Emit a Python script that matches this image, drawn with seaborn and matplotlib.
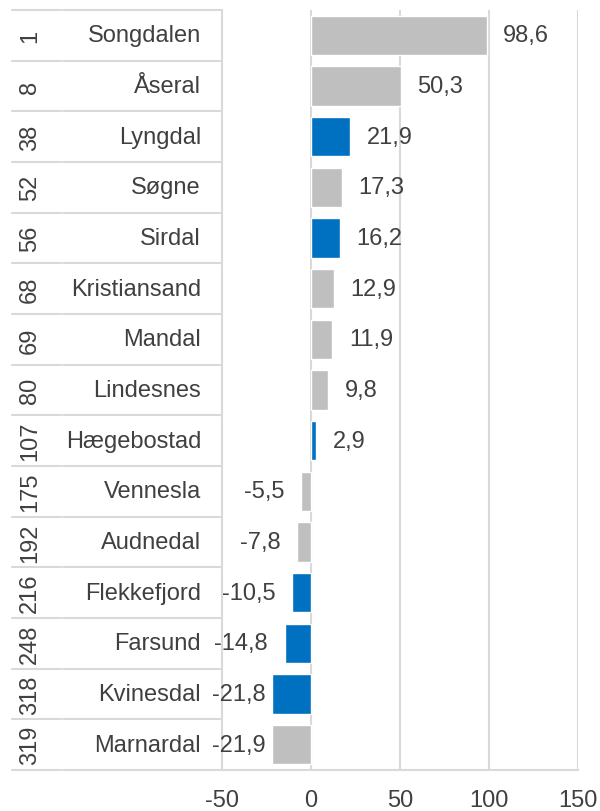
import matplotlib
matplotlib.use("Agg")
import matplotlib.pyplot as plt
import matplotlib.transforms as mtransforms
import seaborn as sns
import pandas as pd

# data
ranks = ["1", "8", "38", "52", "56", "68", "69", "80", "107", "175", "192", "216", "248", "318", "319"]
names = ["Songdalen", "Åseral", "Lyngdal", "Søgne", "Sirdal", "Kristiansand", "Mandal", "Lindesnes",
         "Hægebostad", "Vennesla", "Audnedal", "Flekkefjord", "Farsund", "Kvinesdal", "Marnardal"]
values = [98.6, 50.3, 21.9, 17.3, 16.2, 12.9, 11.9, 9.8, 2.9, -5.5, -7.8, -10.5, -14.8, -21.8, -21.9]
groups = ["grey", "grey", "blue", "grey", "blue", "grey", "grey", "grey",
          "blue", "grey", "grey", "blue", "blue", "blue", "grey"]
xticks = [-50, 0, 50, 100, 150]

df = pd.DataFrame({"name": names, "value": values, "group": groups})

sns.set_style("white")
plt.rcParams['font.family'] = ['Liberation Sans', 'DejaVu Sans']
txt = '#404040'
grid = '#D9D9D9'
fs = 17

W, H = 600, 812
fig = plt.figure(figsize=(6, 8.12), dpi=100)
ax = fig.add_axes([222 / W, 1 - 771 / H, (578 - 222) / W, (771 - 11) / H])

sns.barplot(data=df, x="value", y="name", hue="group", dodge=False, legend=False,
            palette={"grey": "#BFBFBF", "blue": "#0070C0"}, width=0.77, ax=ax,
            saturation=1)

ax.set_xlim(-50, 150)
ax.set_ylim(len(names) - 0.5, -0.5)
ax.set_xticks(xticks)
ax.set_xticklabels([str(t) for t in xticks], fontsize=fs, color=txt)
ax.tick_params(axis='x', length=0, pad=14)
ax.set_yticks([])
ax.set_xlabel("")
ax.set_ylabel("")
for t in xticks[1:]:
    ax.axvline(t, color=grid, lw=1.5, zorder=0)
for s in ['top', 'right']:
    ax.spines[s].set_visible(False)
ax.spines['left'].set_color(grid)
ax.spines['left'].set_linewidth(1.5)
ax.spines['bottom'].set_color(grid)
ax.spines['bottom'].set_linewidth(1.5)

# category table on the left (figure pixel x, data y)
trans = mtransforms.blended_transform_factory(
    mtransforms.Affine2D().scale(1 / W, 1) + fig.transFigure
    if False else fig.transFigure, ax.transData)
for i in range(len(names) + 1):
    y = i - 0.5
    ax.plot([12 / W, 61 / W], [y, y], transform=trans, color=grid, lw=1.5, clip_on=False)
    ax.plot([63 / W, 222 / W], [y, y], transform=trans, color=grid, lw=1.5, clip_on=False)
for i, (r, n) in enumerate(zip(ranks, names)):
    ax.text(30 / W, i, r, transform=trans, rotation=90, ha='center', va='center',
            fontsize=fs, color=txt)
    ax.text(201 / W, i, n, transform=trans, ha='right', va='center',
            fontsize=fs, color=txt)

# value labels
fig.canvas.draw()
renderer = fig.canvas.get_renderer()
for i, v in enumerate(values):
    lab = f"{v:.1f}".replace(".", ",")
    if v >= 0:
        ax.annotate(lab, (v, i), xytext=(12, 0), textcoords='offset points',
                    ha='left', va='center', fontsize=fs, color=txt)
    else:
        t = ax.annotate(lab, (v, i), xytext=(-12, 0), textcoords='offset points',
                        ha='right', va='center', fontsize=fs, color=txt)
        bb = t.get_window_extent(renderer)
        if bb.x0 < 211:
            t.remove()
            ax.text(212 / W, i, lab, transform=trans, ha='left', va='center',
                    fontsize=fs, color=txt)

fig.savefig("out.png", dpi=100)
